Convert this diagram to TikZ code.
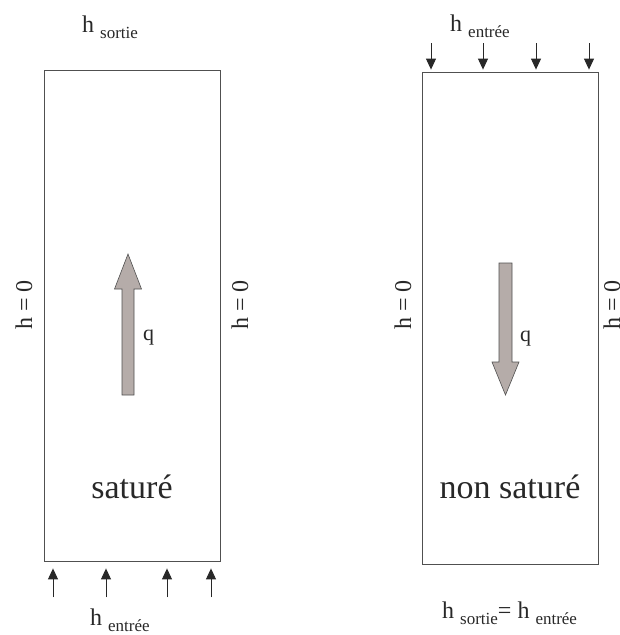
\documentclass[tikz,border=0pt]{standalone}
\usepackage{fontspec}
\setmainfont{Liberation Serif}
\usetikzlibrary{arrows.meta}

\definecolor{framegray}{RGB}{80,80,80}
\definecolor{fluxgray}{RGB}{181,172,169}
\definecolor{inkgray}{RGB}{40,40,40}

% small subscript used in the head labels
\newcommand{\hsub}[1]{{\fontsize{17}{20}\selectfont\raisebox{-6pt}{#1}}}

\begin{document}
\begin{tikzpicture}[
        x=1pt, y=-1pt,
        every node/.style={text=inkgray, font=\fontsize{24}{28}\selectfont, inner sep=0pt},
        column/.style={draw=framegray, line width=0.8pt, minimum width=176pt},
        inflow/.style={-{Triangle[width=10pt,length=11pt]}, draw=inkgray, fill=inkgray, line width=1pt},
        flux/.style={draw=framegray, fill=fluxgray, line width=0.6pt},
        bc/.style={rotate=90},
        zone/.style={font=\fontsize{34}{40}\selectfont}
    ]
    \useasboundingbox (0,0) rectangle (620,635);

    % saturated column, flow upwards
    \node[column, minimum height=491pt] (sat) at (132,315.5) {};
    \node[zone] (satlabel) at (132,487) {saturé};
    \node[anchor=base west] (satout) at (82,32) {h \hsub{sortie}};
    \node[anchor=base west] (satin) at (90,625) {h \hsub{entrée}};
    \node[bc] (satleft) at (24,305) {h = 0};
    \node[bc] (satright) at (240,305) {h = 0};
    \foreach \x [count=\i] in {53,106,167,211} {
        \coordinate (up\i) at (\x,597);
        \draw[inflow] (up\i) -- ([yshift=-7pt]up\i |- sat.south);
    }
    \coordinate (qup) at (128,395);
    \filldraw[flux] (qup) ++(-6,0) -- ++(0,-106) -- ++(-7.5,0) -- ++(13.5,-35)
        -- ++(13.5,35) -- ++(-7.5,0) -- ++(0,106) -- cycle;
    \node[anchor=base west, font=\fontsize{22}{26}\selectfont] (qsat) at (143,340) {q};

    % unsaturated column, flow downwards
    \node[column, minimum height=492pt] (unsat) at (510,318) {};
    \node[zone] (unsatlabel) at (510,487) {non saturé};
    \node[anchor=base west] (unsatin) at (450,31) {h \hsub{entrée}};
    \node[anchor=base west] (unsatout) at (442,618) {h \hsub{sortie}= h \hsub{entrée}};
    \node[bc] (unsatleft) at (403,305) {h = 0};
    \node[bc] (unsatright) at (612,305) {h = 0};
    \foreach \x [count=\i] in {431,483,536,589} {
        \coordinate (down\i) at (\x,43);
        \draw[inflow] (down\i) -- ([yshift=2pt]down\i |- unsat.north);
    }
    \coordinate (qdown) at (505.5,263);
    \filldraw[flux] (qdown) ++(-6.5,0) -- ++(0,99) -- ++(-7,0) -- ++(13.5,33)
        -- ++(13.5,-33) -- ++(-7,0) -- ++(0,-99) -- cycle;
    \node[anchor=base west, font=\fontsize{22}{26}\selectfont] (qunsat) at (520,341) {q};
\end{tikzpicture}
\end{document}
